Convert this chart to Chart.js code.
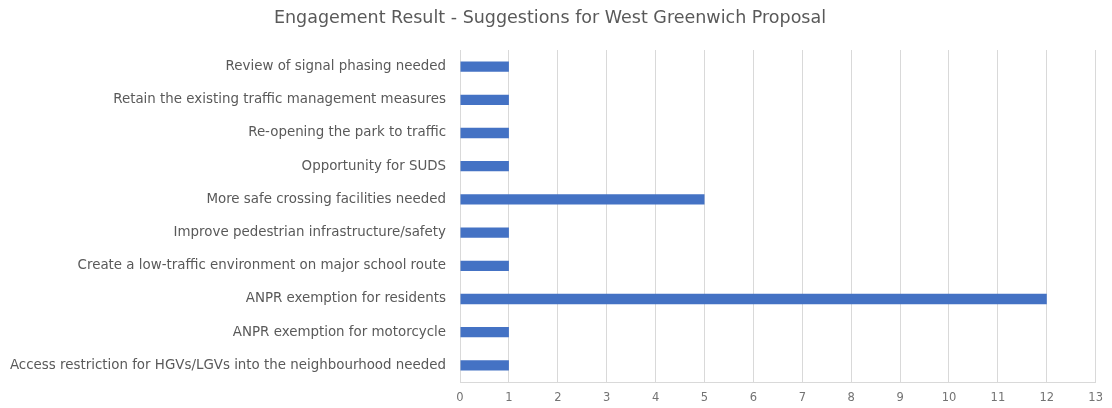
<!DOCTYPE html>
<html lang="en">
<head>
    <meta charset="UTF-8">
    <title>Engagement Result</title>
    <script src="https://cdn.jsdelivr.net/npm/chart.js"></script>
    <style>
        html, body { margin: 0; padding: 0; background: #fff; }
        #wrap { width: 1112px; height: 408px; }
    </style>
</head>
<body>
    <div id="wrap">
        <canvas id="myChart"></canvas>
    </div>
<script>
    // suggestions, top to bottom
    var categorias = [
        'Review of signal phasing needed',
        'Retain the existing traffic management measures',
        'Re-opening the park to traffic',
        'Opportunity for SUDS',
        'More safe crossing facilities needed',
        'Improve pedestrian infrastructure/safety',
        'Create a low-traffic environment on major school route',
        'ANPR exemption for residents',
        'ANPR exemption for motorcycle',
        'Access restriction for HGVs/LGVs into the neighbourhood needed'
    ];
    var respostas = [1, 1, 1, 1, 5, 1, 1, 12, 1, 1];
    var eixoMax = 13;

    const ctx = document.getElementById('myChart');
    const cinza = '#595959';
    const fonte = "'DejaVu Sans', sans-serif";

    new Chart(ctx, {
        type: 'bar',
        data: {
            labels: categorias,
            datasets: [{
                label: 'Responses',
                data: respostas,
                backgroundColor: '#4472C4',
                borderWidth: 0,
                categoryPercentage: 0.31,
                barPercentage: 1
            }]
        },
        options: {
            indexAxis: 'y',
            responsive: true,
            maintainAspectRatio: false,
            animation: false,
            layout: { padding: { left: 0, right: 12, top: 0, bottom: 0 } },
            plugins: {
                legend: { display: false },
                tooltip: { enabled: false },
                title: {
                    display: true,
                    text: 'Engagement Result - Suggestions for West Greenwich Proposal',
                    color: cinza,
                    font: { family: fonte, size: 17.5, weight: 'normal' },
                    padding: { top: 8, bottom: 21 }
                }
            },
            scales: {
                x: {
                    min: 0,
                    max: eixoMax,
                    ticks: {
                        stepSize: 1,
                        color: '#737373',
                        font: { family: fonte, size: 11.5 },
                        padding: 9
                    },
                    grid: { color: '#d9d9d9', drawTicks: false },
                    border: { display: true, color: '#d9d9d9' },
                    afterFit: function (s) { s.height = 26; }
                },
                y: {
                    ticks: {
                        color: cinza,
                        font: { family: fonte, size: 13.4 },
                        padding: 14,
                        autoSkip: false
                    },
                    grid: { display: false, drawTicks: false },
                    border: { display: true, color: '#d9d9d9' },
                    afterFit: function (s) { s.width = 460; }
                }
            }
        }
    });
</script>
</body>
</html>
